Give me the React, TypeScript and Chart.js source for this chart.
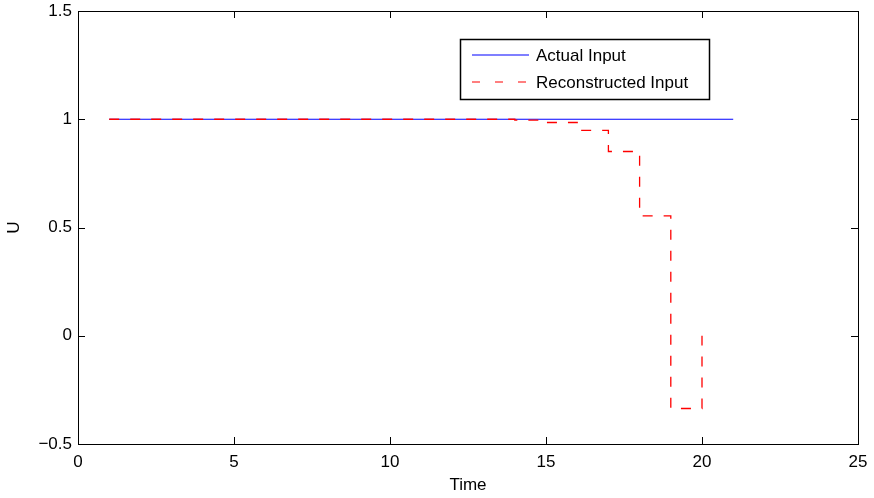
import React, { useEffect, useRef } from "react";
import { Chart, registerables } from "chart.js";

Chart.register(...registerables);

const actualTime = [1, 2, 3, 4, 5, 6, 7, 8, 9, 10, 11, 12, 13, 14, 15, 16, 17, 18, 19, 20, 21];
const actualInput = [1, 1, 1, 1, 1, 1, 1, 1, 1, 1, 1, 1, 1, 1, 1, 1, 1, 1, 1, 1, 1];
const reconTime = [1, 2, 3, 4, 5, 6, 7, 8, 9, 10, 11, 12, 13, 14, 15, 16, 17, 18, 19, 20];
const reconInput = [1, 1, 1, 1, 1, 1, 1, 1, 1, 1, 1, 1, 1, 0.996, 0.985, 0.949, 0.851, 0.554, -0.336, 0];
const xTicks = [0, 5, 10, 15, 20, 25];
const yTicks = [-0.5, 0, 0.5, 1, 1.5];
const legendLabels = ["Actual Input", "Reconstructed Input"];
const xTitle = "Time";
const yTitle = "U";

const FONT = "'Liberation Sans', Arial, Helvetica, sans-serif";
const FS = 17;

const framePlugin = {
  id: "matlabFrame",
  afterDatasetsDraw(chart: any) {
    const { ctx, chartArea: a, scales } = chart;
    const xs = scales.x, ys = scales.y;
    ctx.save();
    ctx.strokeStyle = "#000";
    ctx.lineWidth = 1;
    ctx.strokeRect(Math.round(a.left) + 0.5, Math.round(a.top) + 0.5, Math.round(a.right - a.left), Math.round(a.bottom - a.top));
    const tl = 7;
    ctx.beginPath();
    for (const v of xTicks) {
      const px = Math.round(xs.getPixelForValue(v)) + 0.5;
      ctx.moveTo(px, a.bottom);
      ctx.lineTo(px, a.bottom - tl);
      ctx.moveTo(px, a.top);
      ctx.lineTo(px, a.top + tl);
    }
    for (const v of yTicks) {
      const py = Math.round(ys.getPixelForValue(v)) + 0.5;
      ctx.moveTo(a.left, py);
      ctx.lineTo(a.left + tl, py);
      ctx.moveTo(a.right, py);
      ctx.lineTo(a.right - tl, py);
    }
    ctx.stroke();

    // legend
    const lx = 460, ly = 39, lw = 249, lh = 60;
    ctx.fillStyle = "#fff";
    ctx.fillRect(lx, ly, lw, lh);
    ctx.lineWidth = 1.5;
    ctx.strokeStyle = "#000";
    ctx.strokeRect(lx + 0.5, ly + 0.5, lw, lh);
    ctx.lineWidth = 1.2;
    ctx.strokeStyle = "#0000ff";
    ctx.beginPath();
    ctx.moveTo(472, 55);
    ctx.lineTo(529, 55);
    ctx.stroke();
    ctx.strokeStyle = "#ff0000";
    ctx.setLineDash([8, 15]);
    ctx.beginPath();
    ctx.moveTo(472, 82);
    ctx.lineTo(530, 82);
    ctx.stroke();
    ctx.setLineDash([]);
    ctx.fillStyle = "#000";
    ctx.font = `${FS}px ${FONT}`;
    ctx.textBaseline = "middle";
    ctx.textAlign = "left";
    ctx.fillText(legendLabels[0], 536, 56);
    ctx.fillText(legendLabels[1], 536, 83);

    ctx.textAlign = "center";
    ctx.fillText(xTitle, (a.left + a.right) / 2, 485);
    ctx.save();
    ctx.translate(14, (a.top + a.bottom) / 2);
    ctx.rotate(-Math.PI / 2);
    ctx.fillText(yTitle, 0, 0);
    ctx.restore();
    ctx.restore();
  },
};

export default function App() {
  const ref = useRef<HTMLCanvasElement>(null);
  useEffect(() => {
    const chart = new Chart(ref.current!, {
      type: "line",
      data: {
        datasets: [
          {
            label: legendLabels[1],
            data: reconTime.map((t, i) => ({ x: t, y: reconInput[i] })),
            borderColor: "#ff0000",
            borderWidth: 1.3,
            borderDash: [10, 11],
            stepped: "before",
            pointRadius: 0,
            fill: false,
            order: 0,
          },
          {
            label: legendLabels[0],
            data: actualTime.map((t, i) => ({ x: t, y: actualInput[i] })),
            borderColor: "#0000ff",
            borderWidth: 1.2,
            pointRadius: 0,
            fill: false,
            order: 1,
          },
        ],
      },
      options: {
        animation: false,
        responsive: false,
        maintainAspectRatio: false,
        layout: { padding: { left: 0, right: 16, top: 11, bottom: 0 } },
        plugins: { legend: { display: false }, tooltip: { enabled: false } },
        scales: {
          x: {
            type: "linear",
            min: 0,
            max: 25,
            afterFit: (s: any) => { s.height = 54; s.paddingLeft = 0; s.paddingRight = 0; },
            afterBuildTicks: (s: any) => { s.ticks = xTicks.map((v) => ({ value: v })); },
            grid: { display: false, drawTicks: false },
            border: { display: false },
            ticks: {
              padding: 8,
              color: "#000",
              font: { family: FONT, size: FS },
              maxRotation: 0,
              callback: (v: any) => String(v).replace("-", "\u2212"),
            },
          },
          y: {
            type: "linear",
            min: -0.5,
            max: 1.5,
            afterFit: (s: any) => { s.width = 78; s.paddingTop = 0; s.paddingBottom = 0; },
            afterBuildTicks: (s: any) => { s.ticks = yTicks.map((v) => ({ value: v })); },
            grid: { display: false, drawTicks: false },
            border: { display: false },
            ticks: {
              padding: 6,
              color: "#000",
              font: { family: FONT, size: FS },
              callback: (v: any) => String(v).replace("-", "\u2212"),
            },
          },
        },
      },
      plugins: [framePlugin],
    } as any);
    return () => chart.destroy();
  }, []);
  return (
    <div style={{ position: "fixed", left: 0, top: 0, width: 874, height: 498, background: "#fff" }}>
      <canvas ref={ref} width={874} height={498} style={{ display: "block" }} />
    </div>
  );
}
